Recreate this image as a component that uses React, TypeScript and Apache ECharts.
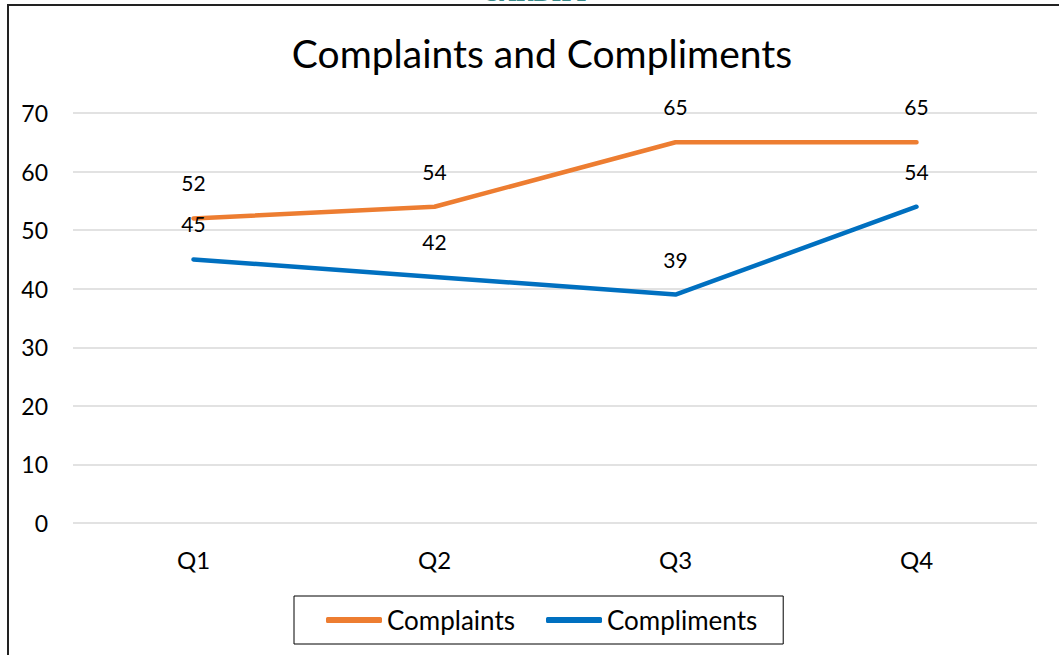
import React, { useEffect, useRef } from "react";
import * as echarts from "echarts";

const categories = ["Q1", "Q2", "Q3", "Q4"];
const complaints = [52, 54, 65, 65];
const compliments = [45, 42, 39, 54];
const FONT = "Lato";

export default function App() {
  const ref = useRef<HTMLDivElement>(null);
  useEffect(() => {
    document.body.style.margin = "0";
    const chart = echarts.init(ref.current!, null, { renderer: "svg" });
    const labelStyle = {
      show: true,
      position: "top",
      distance: 25,
      fontFamily: FONT,
      fontSize: 21,
      color: "#000",
    };
    chart.setOption({
      animation: false,
      backgroundColor: "#ffffff",
      textStyle: { fontFamily: FONT },
      title: {
        text: "Complaints and Compliments",
        left: 537,
        textAlign: "center",
        top: 28,
        textStyle: { fontFamily: FONT, fontSize: 39, fontWeight: "normal", color: "#000" },
      },
      grid: { left: 73, right: 22, top: 113, bottom: 132 },
      xAxis: {
        type: "category",
        data: categories,
        boundaryGap: true,
        axisLine: { show: false },
        axisTick: { show: false },
        axisLabel: { fontFamily: FONT, fontSize: 24, color: "#000", margin: 24 },
      },
      yAxis: {
        type: "value",
        min: 0,
        max: 70,
        interval: 10,
        axisLine: { show: false },
        axisTick: { show: false },
        axisLabel: { fontFamily: FONT, fontSize: 23, color: "#000", margin: 25 },
        splitLine: { lineStyle: { color: "#d9d9d9", width: 1.5 } },
      },
      legend: {
        bottom: 11,
        left: 294,
        padding: [11, 26, 11, 32],
        borderColor: "#000",
        borderWidth: 1,
        itemWidth: 56,
        itemHeight: 6,
        itemGap: 31,
        icon: "roundRect",
        textStyle: { fontFamily: FONT, fontSize: 26, color: "#000" },
        data: ["Complaints", "Compliments"],
      },
      series: [
        {
          name: "Complaints",
          type: "line",
          data: complaints,
          symbol: "circle",
          symbolSize: 0.01,
          showSymbol: true,
          color: "#ED7D31",
          lineStyle: { width: 4.5, cap: "round", join: "round" },
          label: labelStyle,
        },
        {
          name: "Compliments",
          type: "line",
          data: compliments,
          symbol: "circle",
          symbolSize: 0.01,
          showSymbol: true,
          color: "#0070C0",
          lineStyle: { width: 4.5, cap: "round", join: "round" },
          label: labelStyle,
        },
      ],
      graphic: [
        { type: "line", shape: { x1: 7, y1: 5, x2: 1059, y2: 5 }, style: { stroke: "#222", lineWidth: 2 } },
        { type: "line", shape: { x1: 8, y1: 4, x2: 8, y2: 655 }, style: { stroke: "#222", lineWidth: 2 } },
        {
          type: "text",
          x: 537,
          y: 4,
          style: {
            text: "CARDIFF",
            fill: "#3A8A8A",
            font: "bold 21px 'DejaVu Serif'",
            textAlign: "center",
            textVerticalAlign: "bottom",
          },
        },
      ],
    });
    return () => chart.dispose();
  }, []);
  return <div ref={ref} style={{ position: "fixed", left: 0, top: 0, width: 1059, height: 655 }} />;
}
